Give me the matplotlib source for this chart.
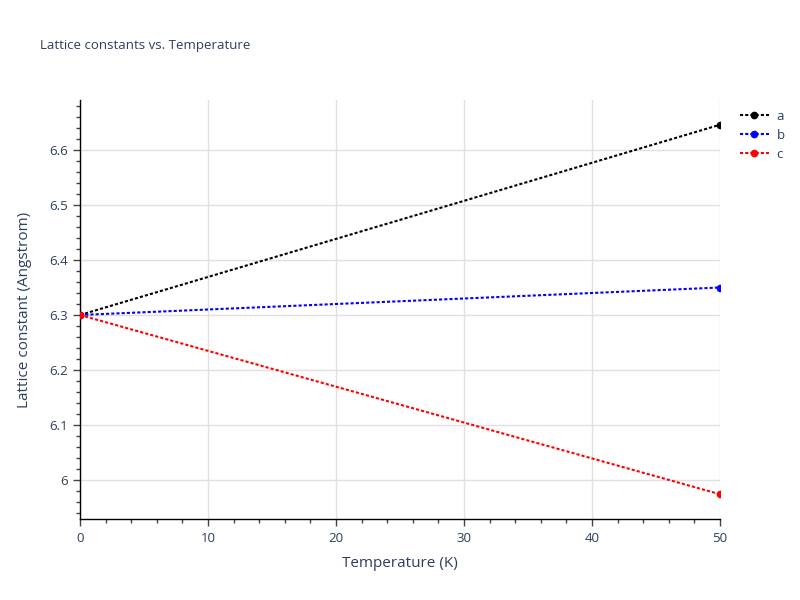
import matplotlib
matplotlib.use("Agg")
import matplotlib.pyplot as plt
from matplotlib.ticker import MultipleLocator

# data
temperature = [0, 50]
lat_a = [6.300, 6.646]
lat_b = [6.300, 6.350]
lat_c = [6.300, 5.974]
series_names = ["a", "b", "c"]
series_colors = ["black", "blue", "red"]

font_color = "#2a3f5f"
plt.rcParams["font.family"] = ["Open Sans", "DejaVu Sans"]

fig = plt.figure(figsize=(8, 6), dpi=100)
ax = fig.add_axes([80 / 800, 1 - 519 / 600, 640 / 800, 419 / 600])

for vals, name, col in zip([lat_a, lat_b, lat_c], series_names, series_colors):
    ax.plot(temperature, vals, color=col, lw=1.5, linestyle=(0, (1.5, 1.0)),
            marker="o", markersize=4.5, label=name, zorder=3)

ax.set_xlim(0, 50)
ax.set_ylim(5.929, 6.691)

ax.xaxis.set_major_locator(MultipleLocator(10))
ax.xaxis.set_minor_locator(MultipleLocator(2))
ax.yaxis.set_major_locator(MultipleLocator(0.1))
ax.yaxis.set_minor_locator(MultipleLocator(0.02))
ax.set_yticks([6.0, 6.1, 6.2, 6.3, 6.4, 6.5, 6.6])
ax.set_yticklabels(["6", "6.1", "6.2", "6.3", "6.4", "6.5", "6.6"])

ax.grid(True, which="major", color="#e0e0e0", lw=1)
ax.set_axisbelow(True)
for side in ["top", "right"]:
    ax.spines[side].set_visible(False)
for side in ["left", "bottom"]:
    ax.spines[side].set_color("black")
    ax.spines[side].set_linewidth(1)

ax.tick_params(which="major", direction="out", length=5, width=1, color="#444444",
               labelcolor=font_color, labelsize=9.5, pad=4)
ax.tick_params(which="minor", direction="out", length=3, width=1, color="#444444")

ax.set_xlabel("Temperature (K)", color=font_color, fontsize=11, labelpad=8)
ax.set_ylabel("Lattice constant (Angstrom)", color=font_color, fontsize=11, labelpad=12)

fig.text(40 / 800, 1 - 46 / 600, "Lattice constants vs. Temperature",
         color=font_color, fontsize=9.5, va="center", ha="left")

leg = ax.legend(loc="upper left", bbox_to_anchor=(1.012, 1.005), frameon=False,
                fontsize=9.5, handlelength=2.2, handletextpad=0.6, labelspacing=0.45,
                borderaxespad=0.5)
for t in leg.get_texts():
    t.set_color(font_color)

fig.savefig("out.png", dpi=100)
